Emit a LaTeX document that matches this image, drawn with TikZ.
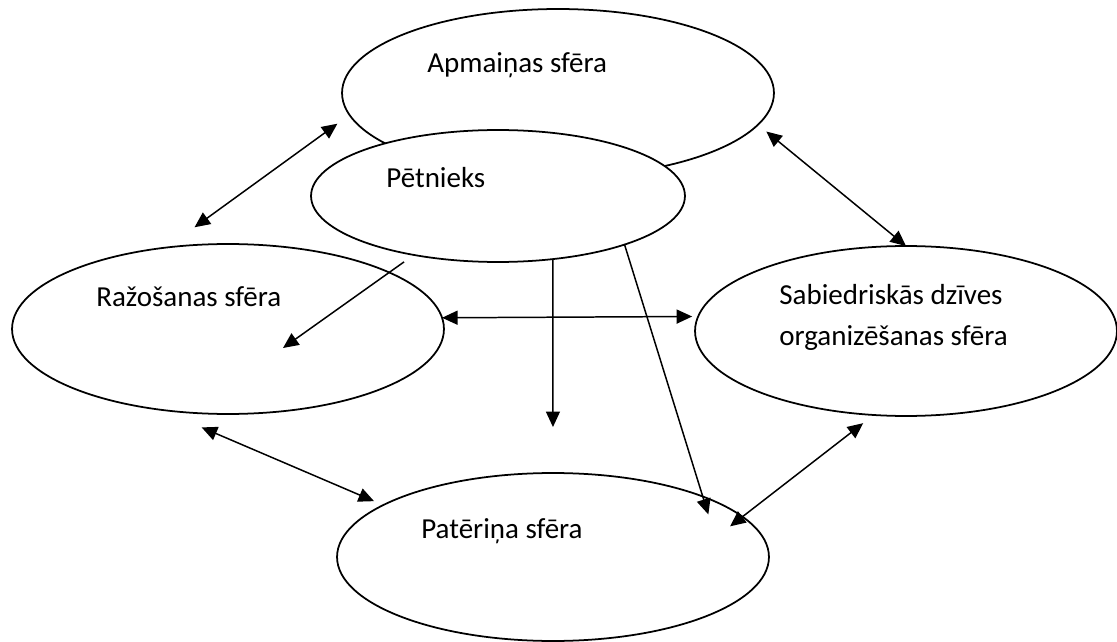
\documentclass[tikz,border=0pt]{standalone}
\usepackage{fontspec}
\setmainfont{Carlito}
\usetikzlibrary{arrows.meta, shapes.geometric, calc}

\begin{document}
\begin{tikzpicture}[x=0.02cm, y=-0.02cm,
  sfera/.style={draw, ellipse, line width=1pt, inner sep=0pt, outer sep=0pt},
  txt/.style={font=\fontsize{16.5}{20}\selectfont, inner sep=0pt, anchor=base west},
  link/.style={line width=0.85pt, -{Triangle[length=0.31cm, width=0.28cm]}},
  both/.style={line width=0.85pt, {Triangle[length=0.31cm, width=0.28cm]}-{Triangle[length=0.31cm, width=0.28cm]}}]
  \useasboundingbox (0,0) rectangle (1117,642);

  % Draw the spheres
  \node[sfera, minimum width=8.64cm, minimum height=3.36cm] (apmaina) at (558,93) {};
  \node[sfera, fill=white, minimum width=7.48cm, minimum height=2.64cm] (petnieks) at (498,196) {};
  \node[sfera, minimum width=8.64cm, minimum height=3.4cm] (razosana) at (228,329) {};
  \node[sfera, minimum width=8.44cm, minimum height=3.4cm] (sabiedr) at (906,331) {};
  \node[sfera, minimum width=8.64cm, minimum height=3.36cm] (pateris) at (553,557) {};
  \coordinate (razosanaIn) at ($(razosana.center)+(55,19)$);

  % Texts
  \node[txt] (apmainaTxt) at (427,73) {Apmaiņas sfēra};
  \node[txt] (petnieksTxt) at (386,188) {Pētnieks};
  \node[txt] (razosanaTxt) at (96,307) {Ražošanas sfēra};
  \node[txt, align=left] (sabiedrTxt) at (779,345) {Sabiedriskās dzīves\\[0.1cm]organizēšanas sfēra};
  \node[txt] (paterisTxt) at (421,538) {Patēriņa sfēra};

  % Arrows
  \draw[both, shorten <=0.69cm, shorten >=0.3cm] (razosana.127.9) -- (apmaina.186.7);
  \draw[both, shorten <=0.216cm] (apmaina.351.9) -- (sabiedr.north);
  \draw[link, shorten <=0.24cm] (petnieks.215.4) -- (razosanaIn);
  \draw[both, shorten >=0.12cm] (razosana.3.2) -- (sabiedr.176.15);
  \draw[link, shorten >=0.92cm] (petnieks.311.1) -- (pateris.north);
  \draw[link, shorten >=-0.376cm] (petnieks.339.3) -- (pateris.22.3);
  \draw[both, shorten <=0.9cm, shorten >=0.2cm] (razosana.230.7) -- (pateris.163.5);
  \draw[both, shorten <=0.268cm, shorten >=-0.314cm] (sabiedr.249) -- (pateris.12.8);
\end{tikzpicture}
\end{document}
